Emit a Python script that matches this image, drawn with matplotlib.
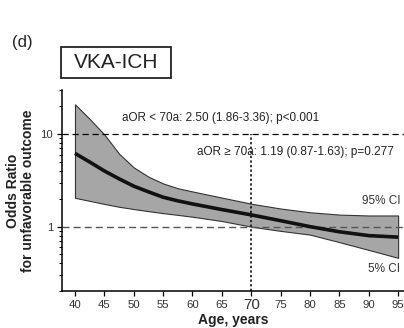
import numpy as np
import matplotlib
matplotlib.use('Agg')
import matplotlib.pyplot as plt
from matplotlib.patches import Rectangle
from matplotlib.ticker import LogLocator, NullFormatter, FixedLocator, FixedFormatter

plt.rcParams['font.family'] = ['Liberation Sans', 'DejaVu Sans']

# ==============================================================================
# data
# ==============================================================================

age   = [40, 42.5, 45, 47.5, 50, 52.5, 55, 57.5, 60, 65, 70, 75, 80, 85, 90, 95]
aor   = [6.2, 5.0, 4.0, 3.29, 2.74, 2.38, 2.08, 1.9, 1.76, 1.53, 1.34, 1.16, 1.0, 0.88, 0.80, 0.77]
upper = [21.0, 14.6, 9.9, 6.15, 4.37, 3.47, 2.93, 2.6, 2.4, 2.06, 1.77, 1.57, 1.43, 1.35, 1.32, 1.32]
lower = [2.05, 1.9, 1.76, 1.64, 1.55, 1.47, 1.4, 1.34, 1.28, 1.15, 1.0, 0.9, 0.82, 0.68, 0.56, 0.46]

xticks = [40, 45, 50, 55, 60, 65, 70, 75, 80, 85, 90, 95]
cutoff = 70

TEXT_COLOR  = '#222222'
TICK_COLOR  = '#333333'
BAND_COLOR  = '#a6a6a6'

# ==============================================================================
# figure
# ==============================================================================

fig = plt.figure(figsize=(4.04, 3.28), dpi=100)
ax = fig.add_axes([62 / 404, 1 - 291.3 / 328, 1 - 62 / 404, (291.3 - 90) / 328])

ax.fill_between(age, lower, upper, facecolor=BAND_COLOR, edgecolor='#333333',
                linewidth=0.8, zorder=2)
ax.plot(age, aor, color='#111111', linewidth=2.6, solid_capstyle='butt', zorder=4)

# reference lines
ax.axhline(10, color='#000000', linestyle=(0, (5, 3)), linewidth=0.9, zorder=3)
ax.axhline(1, color='#555555', linestyle=(0, (5, 3)), linewidth=1.0, zorder=3)
ax.plot([cutoff, cutoff], [0.2, 10], color='#000000', linestyle=(0, (1.5, 1.5)),
        linewidth=1.1, zorder=3)

ax.set_yscale('log')
ax.set_xlim(37.79, 96.0)
ax.set_ylim(0.2, 30)

# ticks
ax.yaxis.set_major_locator(FixedLocator([1, 10]))
ax.yaxis.set_major_formatter(FixedFormatter(['1', '10']))
ax.yaxis.set_minor_locator(LogLocator(base=10, subs=np.arange(2, 10)))
ax.yaxis.set_minor_formatter(NullFormatter())
ax.set_xticks(xticks)
ax.set_xticklabels([str(t) for t in xticks])
ax.tick_params(axis='both', which='major', direction='out', length=3.5, width=0.9,
               labelsize=8.2, labelcolor=TICK_COLOR, pad=3)
ax.tick_params(axis='y', which='minor', direction='out', length=2, width=0.7)
for lbl in ax.get_xticklabels():
    if lbl.get_text() == str(cutoff):
        lbl.set_fontsize(11)
        lbl.set_y(0.012)

for side in ('top', 'right'):
    ax.spines[side].set_visible(False)
for side in ('left', 'bottom'):
    ax.spines[side].set_linewidth(1.1)

ax.set_xlabel('Age, years', fontsize=10, fontweight='bold', color=TEXT_COLOR, labelpad=1)
ax.set_ylabel('Odds Ratio\nfor unfavorable outcome', fontsize=10, fontweight='bold',
              color=TEXT_COLOR, linespacing=1.1, labelpad=4)

# annotations
ax.text(48.0, 14.9, 'aOR < 70a: 2.50 (1.86-3.36); p<0.001', fontsize=8.5,
        color=TEXT_COLOR, ha='left', va='center')
ax.text(60.7, 6.4, 'aOR \u2265 70a: 1.19 (0.87-1.63); p=0.277', fontsize=8.5,
        color=TEXT_COLOR, ha='left', va='center')
ax.text(95.4, 1.88, '95% CI', fontsize=8.5, color=TICK_COLOR, ha='right', va='center')
ax.text(95.4, 0.347, '5% CI', fontsize=8.5, color=TICK_COLOR, ha='right', va='center')

# panel letter and title box
fig.text(12 / 404, 1 - 42 / 328, '(d)', fontsize=12, color=TEXT_COLOR, ha='left', va='center')
fig.patches.append(Rectangle((61 / 404, 1 - 77.7 / 328), 110 / 404, 31 / 328,
                             transform=fig.transFigure, fill=False,
                             edgecolor='#222222', linewidth=1.3))
fig.text(116 / 404, 1 - 62 / 328, 'VKA-ICH', fontsize=15, color=TEXT_COLOR,
         ha='center', va='center')

fig.savefig('out.png', dpi=100)
